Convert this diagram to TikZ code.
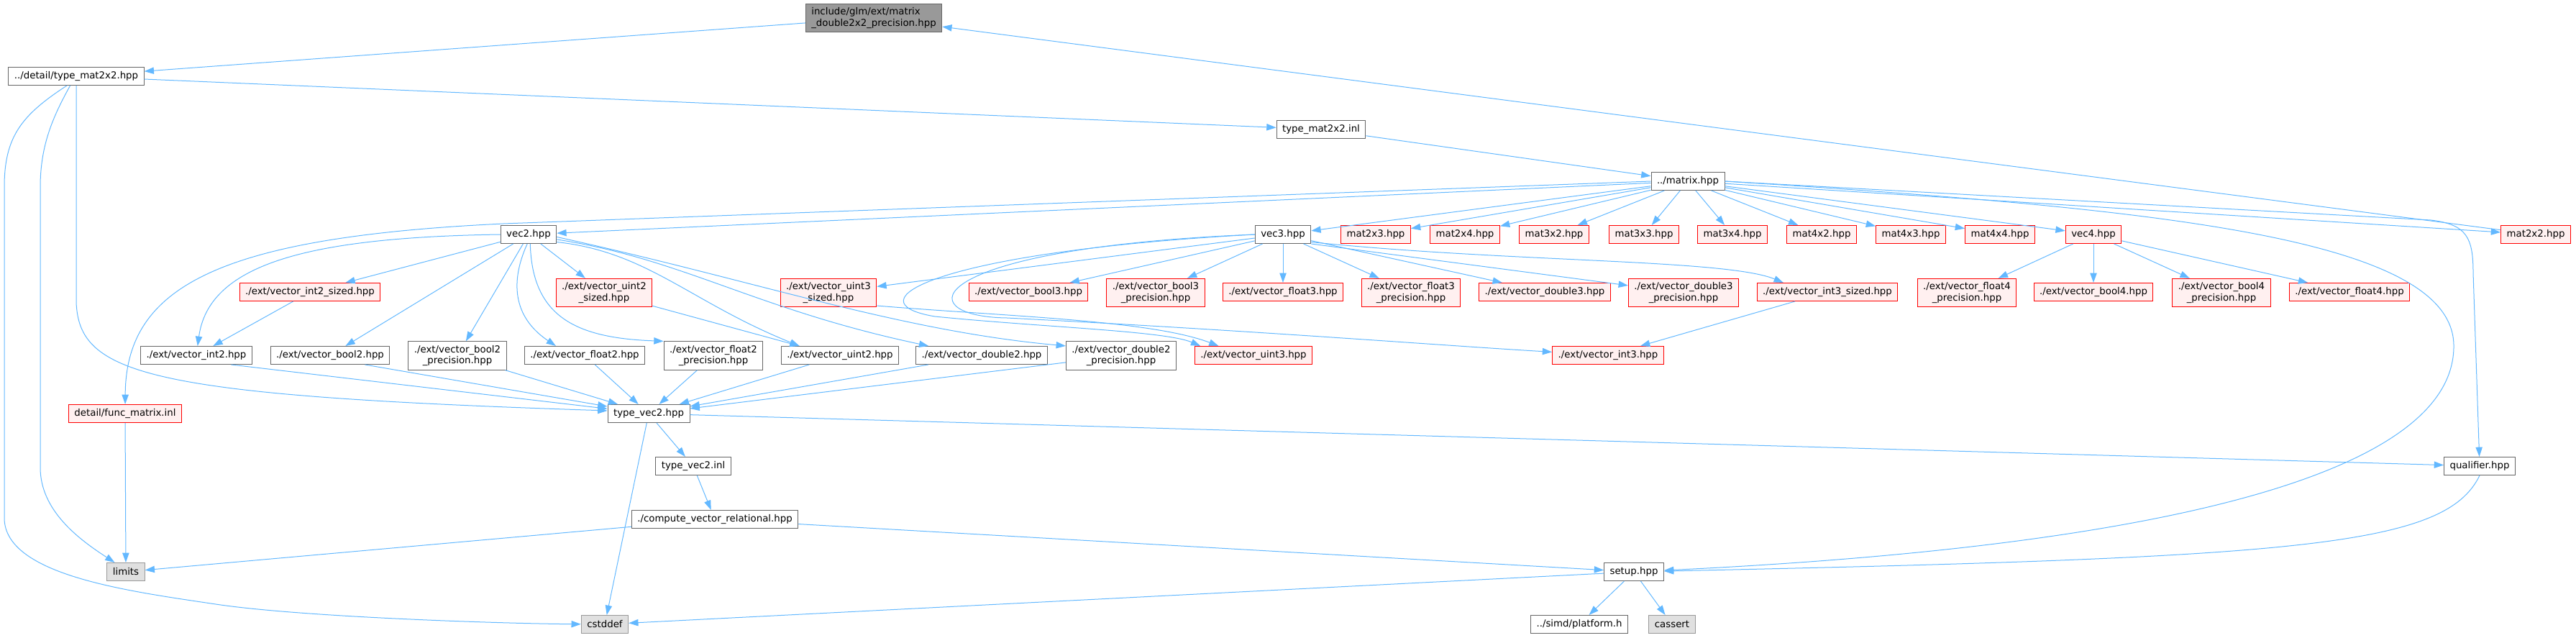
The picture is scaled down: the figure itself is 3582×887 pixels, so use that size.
\documentclass[tikz,border=0pt]{standalone}
\usepackage{fontspec}
\setmainfont{DejaVu Sans}
\usetikzlibrary{arrows.meta}
\definecolor{edgeblue}{RGB}{99,184,255}
\definecolor{boxgrey}{HTML}{666666}
\definecolor{rootgrey}{HTML}{999999}
\definecolor{sysfill}{HTML}{E0E0E0}
\definecolor{truncfill}{HTML}{FFF0F0}

\begin{document}
\begin{tikzpicture}[
  x=0.75pt, y=-0.75pt,
  hfile/.style={
    draw=boxgrey, fill=white, line width=0.75pt,
    font=\fontsize{10}{11.5}\selectfont, text=black,
    inner xsep=6pt, inner ysep=4pt, minimum height=18.75pt,
    align=center,
  },
  rfile/.style={hfile, fill=rootgrey, align=left},
  tfile/.style={hfile, draw=red, fill=truncfill},
  xfile/.style={hfile, draw=rootgrey, fill=sysfill},
  incl/.style={draw=edgeblue, line width=0.75pt,
    -{Triangle[length=10pt, width=7pt]}},
]
\useasboundingbox (0,0) rectangle (3582,887);

% ── top of the graph ─────────────────────────────────────
\node[rfile] (root) at (1215,25) {include/glm/ext/matrix\\\_double2x2\_precision.hpp};
\node[hfile] (det) at (106,106) {../detail/type\_mat2x2.hpp};
\node[hfile] (inl) at (1837,180) {type\_mat2x2.inl};
\node[hfile] (matrix) at (2347,252) {../matrix.hpp};

% ── vec / mat row ────────────────────────────────────────
\node[hfile] (vec2) at (735,326) {vec2.hpp};
\node[hfile] (vec3) at (1784,326) {vec3.hpp};
\foreach \m/\x in {2x3/1913, 2x4/2037, 3x2/2161, 3x3/2286,
                   3x4/2409, 4x2/2533, 4x3/2657, 4x4/2781}
  \node[tfile] (mat\m) at (\x,326) {mat\m.hpp};
\node[tfile] (vec4) at (2911,326) {vec4.hpp};
\node[tfile] (mat2x2) at (3526,326) {mat2x2.hpp};

% ── ext headers, upper row ───────────────────────────────
\node[tfile] (int2sz) at (431,406) {./ext/vector\_int2\_sized.hpp};
\node[tfile] (uint2sz) at (840,407) {./ext/vector\_uint2\\\_sized.hpp};
\node[tfile] (uint3sz) at (1152,407) {./ext/vector\_uint3\\\_sized.hpp};
\node[tfile] (bool3) at (1430,406) {./ext/vector\_bool3.hpp};
\node[tfile] (bool3p) at (1607,407) {./ext/vector\_bool3\\\_precision.hpp};
\node[tfile] (float3) at (1784,406) {./ext/vector\_float3.hpp};
\node[tfile] (float3p) at (1962,407) {./ext/vector\_float3\\\_precision.hpp};
\node[tfile] (double3) at (2148,406) {./ext/vector\_double3.hpp};
\node[tfile] (double3p) at (2341,407) {./ext/vector\_double3\\\_precision.hpp};
\node[tfile] (int3sz) at (2541,406) {./ext/vector\_int3\_sized.hpp};
\node[tfile] (float4p) at (2735,407) {./ext/vector\_float4\\\_precision.hpp};
\node[tfile] (bool4) at (2911,406) {./ext/vector\_bool4.hpp};
\node[tfile] (bool4p) at (3089,407) {./ext/vector\_bool4\\\_precision.hpp};
\node[tfile] (float4) at (3267,406) {./ext/vector\_float4.hpp};

% ── ext headers, lower row ───────────────────────────────
\node[hfile] (int2) at (273,494) {./ext/vector\_int2.hpp};
\node[hfile] (bool2) at (459,494) {./ext/vector\_bool2.hpp};
\node[hfile] (bool2p) at (636,494.5) {./ext/vector\_bool2\\\_precision.hpp};
\node[hfile] (float2) at (813,494) {./ext/vector\_float2.hpp};
\node[hfile] (float2p) at (992,494.5) {./ext/vector\_float2\\\_precision.hpp};
\node[hfile] (uint2) at (1168,494) {./ext/vector\_uint2.hpp};
\node[hfile] (double2) at (1365,494) {./ext/vector\_double2.hpp};
\node[hfile] (double2p) at (1559,494.5) {./ext/vector\_double2\\\_precision.hpp};
\node[tfile] (uint3) at (1743,494) {./ext/vector\_uint3.hpp};
\node[tfile] (int3) at (2236,494) {./ext/vector\_int3.hpp};

% ── detail files and system headers ──────────────────────
\node[tfile] (funcmat) at (174,575) {detail/func\_matrix.inl};
\node[hfile] (tvec2) at (902,575) {type\_vec2.hpp};
\node[hfile] (tvec2inl) at (964,648) {type\_vec2.inl};
\node[hfile] (qualifier) at (3448,648) {qualifier.hpp};
\node[hfile] (cvr) at (994,722) {./compute\_vector\_relational.hpp};
\node[xfile] (limits) at (175,795) {limits};
\node[hfile] (setup) at (2272,795) {setup.hpp};
\node[xfile] (cstddef) at (841,868) {cstddef};
\node[hfile] (platform) at (2196,868) {../simd/platform.h};
\node[xfile] (cassert) at (2325,868) {cassert};

% ── root and type_mat2x2 ─────────────────────────────────
\draw[incl] (root) -- (det);
\draw[incl] (det) -- (inl);
\draw[incl] (inl) -- (matrix);
\draw[incl] (mat2x2) -- (root);
\draw[incl] (det.237) .. controls (75,160) and (56,200) .. (56,260) -- (56,650)
  .. controls (56,710) and (110,750) .. (limits.140);
\draw[incl] (det.225) .. controls (30,160) and (6,190) .. (6,260) -- (6,720)
  .. controls (6,800) and (180,822) .. (300,840)
  .. controls (420,858) and (700,867) .. (cstddef);
\draw[incl] (det.south) -- (106,420) .. controls (110,520) and (200,550) .. (tvec2.176);

% ── ../matrix.hpp ────────────────────────────────────────
\draw[incl] (matrix) -- (vec2);
\draw[incl] (matrix) -- (vec3);
\foreach \m in {2x3,2x4,3x2,3x3,3x4,4x2,4x3,4x4}
  \draw[incl] (matrix) -- (mat\m);
\draw[incl] (matrix) -- (vec4);
\draw[incl] (matrix) -- (mat2x2);
\draw[incl] (matrix.west) -- (700,311) .. controls (300,330) and (175,400) .. (funcmat);
\draw[incl] (matrix.east) -- (3380,306) .. controls (3430,312) and (3439,330) .. (3439,380)
  -- (qualifier);
\draw[incl] (matrix.east) .. controls (3000,290) and (3410,330) .. (3412,480)
  .. controls (3414,660) and (3000,760) .. (setup);

% ── vec2.hpp ─────────────────────────────────────────────
\draw[incl] (vec2) -- (int2sz);
\draw[incl] (vec2) -- (uint2sz);
\draw[incl] (vec2.west) .. controls (420,330) and (290,370) .. (int2);
\draw[incl] (vec2) -- (bool2);
\draw[incl] (vec2) -- (bool2p);
\draw[incl] (vec2.262) .. controls (710,390) and (712,440) .. (float2.162);
\draw[incl] (vec2.280) .. controls (740,440) and (800,470) .. (float2p.north west);
\draw[incl] (vec2.345) .. controls (900,350) and (960,420) .. (uint2.167);
\draw[incl] (vec2.350) .. controls (950,360) and (1050,430) .. (double2.170);
\draw[incl] (vec2.355) .. controls (1050,390) and (1250,460) .. (double2p.170);
\draw[incl] (int2sz) -- (int2);
\draw[incl] (uint2sz) -- (uint2.167);

% ── vec3.hpp ─────────────────────────────────────────────
\foreach \n in {uint3sz,bool3,bool3p,float3,float3p,double3}
  \draw[incl] (vec3) -- (\n);
\draw[incl] (vec3.south east) -- (double3p);
\draw[incl] (vec3.345) .. controls (2100,365) and (2400,360) .. (int3sz.168);
\draw[incl] (vec3.west) .. controls (1300,350) and (1180,420) .. (1300,440)
  .. controls (1450,455) and (1620,460) .. (uint3.170);
\draw[incl] (vec3.west) .. controls (1280,345) and (1260,440) .. (1400,442)
  .. controls (1750,460) and (2000,480) .. (int3);
\draw[incl] (uint3sz.345) .. controls (1400,440) and (1600,445) .. (uint3.165);
\draw[incl] (int3sz) -- (int3);

% ── vec4.hpp ─────────────────────────────────────────────
\foreach \n in {float4p,bool4,bool4p,float4}
  \draw[incl] (vec4) -- (\n);

% ── into type_vec2.hpp ───────────────────────────────────
\draw[incl] (int2.345) -- (tvec2);
\draw[incl] (bool2.345) -- (tvec2);
\foreach \n in {bool2p,float2,float2p,uint2,double2,double2p}
  \draw[incl] (\n) -- (tvec2);

% ── lower part ───────────────────────────────────────────
\draw[incl] (tvec2) -- (qualifier);
\draw[incl] (tvec2) -- (tvec2inl);
\draw[incl] (tvec2) -- (cstddef);
\draw[incl] (tvec2inl) -- (cvr);
\draw[incl] (cvr) -- (limits);
\draw[incl] (cvr) -- (setup);
\draw[incl] (funcmat) -- (limits);
\draw[incl] (qualifier.south) .. controls (3400,760) and (3200,775) .. (setup);
\draw[incl] (setup) -- (cstddef);
\draw[incl] (setup) -- (platform);
\draw[incl] (setup) -- (cassert);

\end{tikzpicture}
\end{document}
